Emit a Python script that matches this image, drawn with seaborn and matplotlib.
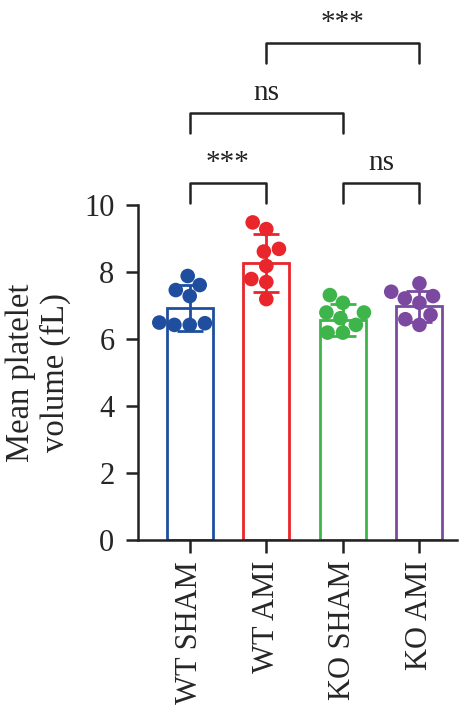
import matplotlib
matplotlib.use('Agg')
import matplotlib.pyplot as plt
import seaborn as sns
import pandas as pd
import numpy as np

sns.set_style('ticks')
plt.rcParams['font.family'] = ['Liberation Serif', 'DejaVu Serif']

# Data
groups = ['WT SHAM', 'WT AMI', 'KO SHAM', 'KO AMI']
colors = ['#1f4e9f', '#e8262b', '#3db54a', '#7b4aa0']
means = [6.92, 8.26, 6.57, 6.97]
sds = [0.69, 0.87, 0.47, 0.45]
wt_sham = [7.61, 7.88, 7.28, 7.46, 6.42, 6.47, 6.42, 6.49]
wt_ami = [9.48, 9.28, 8.69, 8.61, 8.18, 7.79, 7.70, 7.19]
ko_sham = [7.08, 7.31, 6.62, 6.79, 6.79, 6.42, 6.19, 6.19]
ko_ami = [7.66, 7.41, 7.28, 7.21, 7.08, 6.72, 6.59, 6.42]

# comparisons: (group a, group b, label)
comparisons = [(0, 1, '***'), (2, 3, 'ns'), (0, 2, 'ns'), (1, 3, '***')]
bracket_y = [10.66, 10.66, 12.75, 14.84]

points = pd.DataFrame({
    'Group': np.repeat(groups, 8),
    'Value': wt_sham + wt_ami + ko_sham + ko_ami,
})
summary = pd.DataFrame({'Group': groups, 'Mean': means, 'SD': sds})

fig = plt.figure(figsize=(4.76, 7.18), dpi=100)
ax = fig.add_axes([0.29, 0.248, 0.67, 0.4665])

sns.barplot(data=summary, x='Group', y='Mean', order=groups, width=0.6,
            fill=False, hue='Group', palette=colors, legend=False,
            linewidth=2, ax=ax, zorder=2)
for i, (m, s) in enumerate(zip(means, sds)):
    ax.errorbar(i, m, yerr=s, color=colors[i], capsize=9.5, elinewidth=2,
                capthick=2, zorder=3)
sns.swarmplot(data=points, x='Group', y='Value', order=groups, hue='Group',
              palette=colors, legend=False, size=10.5, ax=ax, zorder=4,
              warn_thresh=1)

# significance brackets
for (a, b, lab), yb in zip(comparisons, bracket_y):
    ax.plot([a, a, b, b], [yb - 0.6, yb, yb, yb - 0.6], color='#222222',
            lw=1.8, clip_on=False)
    ax.text((a + b) / 2, yb + 0.2, lab, ha='center', va='bottom',
            fontsize=21, color='#222222', clip_on=False)

ax.set_ylim(0, 10)
ax.set_xlim(-0.675, 3.49)
ax.set_yticks([0, 2, 4, 6, 8, 10])
ax.set_xlabel('')
ax.set_ylabel('Mean platelet\nvolume (fL)', fontsize=23.5, linespacing=1.15)
ax.yaxis.set_label_coords(-0.21, 0.5)
ax.tick_params(axis='y', labelsize=22, width=1.8, length=9, pad=8,
               color='#222222')
ax.tick_params(axis='x', labelsize=22, width=1.8, length=9, pad=6,
               rotation=90, color='#222222')
for sp in ['top', 'right']:
    ax.spines[sp].set_visible(False)
for sp in ['left', 'bottom']:
    ax.spines[sp].set_linewidth(1.8)
    ax.spines[sp].set_color('#222222')

fig.savefig('out.png', dpi=100)
